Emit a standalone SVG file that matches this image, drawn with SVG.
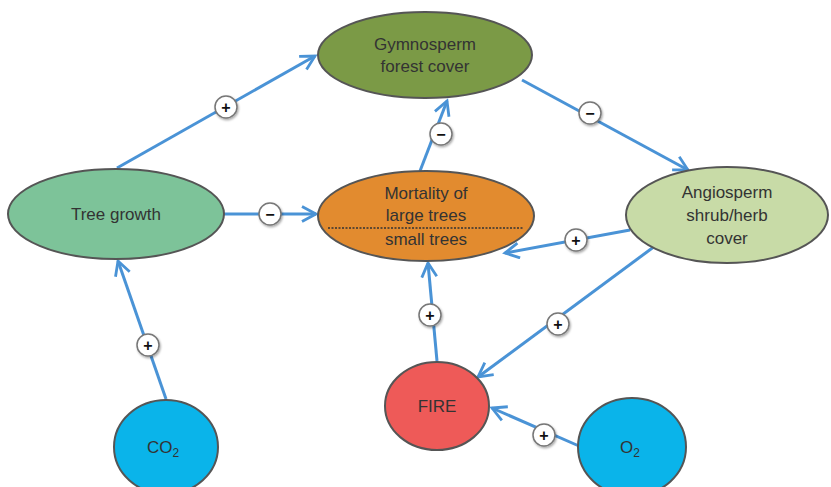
<svg xmlns="http://www.w3.org/2000/svg" width="831" height="487" viewBox="0 0 831 487">
<style>
.n{stroke:#555;stroke-width:2}
.t{font-family:"Liberation Sans",Arial,sans-serif;font-size:17px;fill:#333;text-anchor:middle}
.c{fill:none;stroke:#4a93d6;stroke-width:3}
.b{fill:#fff;stroke:#777;stroke-width:1.5}
.s{font-family:"Liberation Sans",Arial,sans-serif;font-size:16px;font-weight:bold;fill:#111;text-anchor:middle}
</style>
<defs>
<marker id="a" markerWidth="18" markerHeight="18" refX="15" refY="9" orient="auto" markerUnits="userSpaceOnUse">
<path d="M1,1.5 L15,9 L1,16.5" fill="none" stroke="#4a93d6" stroke-width="2.8"/>
</marker>
<filter id="sh" x="-50%" y="-50%" width="200%" height="200%"><feDropShadow dx="1" dy="1.5" stdDeviation="1.2" flood-color="#000" flood-opacity="0.35"/></filter>
</defs>
<rect width="831" height="487" fill="#fff"/>
<g id="connectors">
<line class="c" x1="117" y1="168" x2="315" y2="56" marker-end="url(#a)"/>
<line class="c" x1="224" y1="214" x2="316" y2="214" marker-end="url(#a)"/>
<line class="c" x1="420" y1="171" x2="447" y2="101" marker-end="url(#a)"/>
<line class="c" x1="522" y1="80" x2="688" y2="170" marker-end="url(#a)"/>
<line class="c" x1="630" y1="230" x2="505" y2="253" marker-end="url(#a)"/>
<line class="c" x1="655" y1="246" x2="478" y2="377" marker-end="url(#a)"/>
<line class="c" x1="437" y1="361" x2="428" y2="263" marker-end="url(#a)"/>
<line class="c" x1="579" y1="446" x2="492" y2="408" marker-end="url(#a)"/>
<line class="c" x1="166" y1="399" x2="118" y2="261" marker-end="url(#a)"/>
<g filter="url(#sh)">
<circle class="b" cx="226" cy="107" r="11"/>
<circle class="b" cx="270" cy="214" r="11"/>
<circle class="b" cx="441" cy="134" r="11"/>
<circle class="b" cx="590" cy="113" r="11"/>
<circle class="b" cx="576" cy="240" r="11"/>
<circle class="b" cx="558" cy="324" r="11"/>
<circle class="b" cx="430" cy="315" r="11"/>
<circle class="b" cx="544" cy="435" r="11"/>
<circle class="b" cx="148" cy="345" r="11"/>
</g>
<text class="s" x="226" y="112.5">+</text>
<text class="s" x="270" y="219.5">−</text>
<text class="s" x="441" y="139.5">−</text>
<text class="s" x="590" y="118.5">−</text>
<text class="s" x="576" y="245.5">+</text>
<text class="s" x="558" y="329.5">+</text>
<text class="s" x="430" y="320.5">+</text>
<text class="s" x="544" y="440.5">+</text>
<text class="s" x="148" y="350.5">+</text>
</g>
<g id="gymnosperm">
<ellipse class="n" cx="425" cy="55" rx="107" ry="43" fill="#7b9a46"/>
<text class="t" x="425" y="50">Gymnosperm</text>
<text class="t" x="425" y="72">forest cover</text>
</g>
<g id="treegrowth">
<ellipse class="n" cx="116" cy="214" rx="108" ry="45" fill="#7dc399"/>
<text class="t" x="116" y="220">Tree growth</text>
</g>
<g id="mortality">
<ellipse class="n" cx="426" cy="216" rx="108" ry="45" fill="#e28b2f"/>
<text class="t" x="426" y="199">Mortality of</text>
<text class="t" x="426" y="221">large trees</text>
<line x1="328" y1="228" x2="524" y2="228" stroke="#333" stroke-width="1.5" stroke-dasharray="2,1.5"/>
<text class="t" x="426" y="245">small trees</text>
</g>
<g id="angiosperm">
<ellipse class="n" cx="727" cy="215" rx="101" ry="48" fill="#c8dba7"/>
<text class="t" x="727" y="198">Angiosperm</text>
<text class="t" x="727" y="221">shrub/herb</text>
<text class="t" x="727" y="244">cover</text>
</g>
<g id="fire">
<ellipse class="n" cx="437" cy="406" rx="52" ry="44" fill="#ee5a58"/>
<text class="t" x="437" y="412">FIRE</text>
</g>
<g id="co2">
<ellipse class="n" cx="166" cy="447" rx="52" ry="47" fill="#0ab4ea"/>
<text class="t" x="163" y="453">CO<tspan font-size="12" dy="4">2</tspan></text>
</g>
<g id="o2">
<ellipse class="n" cx="632" cy="447" rx="54" ry="49" fill="#0ab4ea"/>
<text class="t" x="630" y="453">O<tspan font-size="12" dy="4">2</tspan></text>
</g>
</svg>
